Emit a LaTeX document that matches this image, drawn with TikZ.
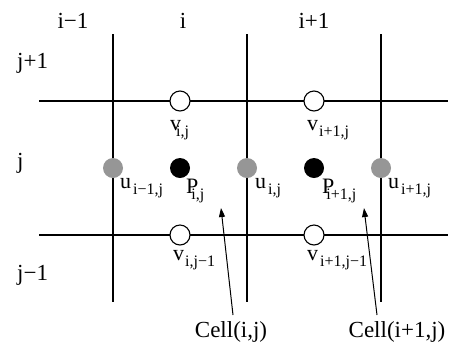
\documentclass[tikz,border=0pt]{standalone}
\usepackage{fontspec}
\setmainfont{Liberation Serif}
\usetikzlibrary{arrows.meta}
\definecolor{ugray}{RGB}{150,150,150}
\newcommand\sbx[1]{\raisebox{-6bp}{\fontsize{16bp}{16bp}\selectfont #1}}
\tikzset{
  grid/.style={line width=1.1bp},
  dotbase/.style={circle, minimum size=20bp, inner sep=0pt},
  vdot/.style={dotbase, draw=black, line width=1.1bp, fill=white},
  udot/.style={dotbase, fill=ugray},
  pdot/.style={dotbase, fill=black},
  lbl/.style={inner sep=0pt, anchor=base west, font=\fontsize{22bp}{22bp}\selectfont},
  idx/.style={inner sep=0pt, anchor=base, font=\fontsize{23bp}{23bp}\selectfont},
  jdx/.style={inner sep=0pt, anchor=base west, font=\fontsize{23bp}{23bp}\selectfont},
  pointer/.style={line width=1bp, -{Triangle[length=9bp,width=6bp]}}
}
\begin{document}
\begin{tikzpicture}[x=1bp,y=-1bp]
\useasboundingbox (0,0) rectangle (454,351);
% grid lines
\draw[grid] (113,34) -- (113,302);
\draw[grid] (247,34) -- (247,302);
\draw[grid] (381,34) -- (381,302);
\draw[grid] (39,101) -- (448,101);
\draw[grid] (39,235) -- (448,235);
% dots
\node[vdot] (v1) at (180,101) {};
\node[vdot] (v2) at (314,101) {};
\node[vdot] (v3) at (180,235) {};
\node[vdot] (v4) at (314,235) {};
\node[udot] (u1) at (113,168) {};
\node[udot] (u2) at (247,168) {};
\node[udot] (u3) at (381,168) {};
\node[pdot] (p1) at (180,168) {};
\node[pdot] (p2) at (314,168) {};
% index labels
\node[idx] (im) at (73,28) {i−1};
\node[idx] (ii) at (183,28) {i};
\node[idx] (ip) at (314,28) {i+1};
\node[jdx] (jp) at (17,68) {j+1};
\node[jdx] (jj) at (17,168) {j};
\node[jdx] (jm) at (17,280) {j−1};
% variable labels
\node[lbl] (lv1) at (170,130) {v\kern-5bp\sbx{i,j}};
\node[lbl] (lv2) at (307,130) {v\kern1bp\sbx{i+1,j}};
\node[lbl] (lv3) at (173,260) {v\kern1bp\sbx{i,j−1}};
\node[lbl] (lv4) at (307,260) {v\kern2bp\sbx{i+1,j−1}};
\node[lbl] (lu1) at (120,188) {u\kern2bp\sbx{i−1,j}};
\node[lbl] (lu2) at (255,188) {u\kern2bp\sbx{i,j}};
\node[lbl] (lu3) at (388,188) {u\kern2bp\sbx{i+1,j}};
\node[lbl] (lp1) at (186,193) {P\kern-7bp\sbx{i,j}};
\node[lbl] (lp2) at (322,193) {P\kern-8bp\sbx{i+1,j}};
% cell labels and pointers
\node[idx] (cell1) at (231,337) {Cell(i,j)};
\node[idx] (cell2) at (397,337) {Cell(i+1,j)};
\coordinate (t1) at (233,315);
\coordinate (h1) at (221,208);
\coordinate (t2) at (377,315);
\coordinate (h2) at (364,208);
\draw[pointer] (t1) -- (h1);
\draw[pointer] (t2) -- (h2);
\end{tikzpicture}
\end{document}
